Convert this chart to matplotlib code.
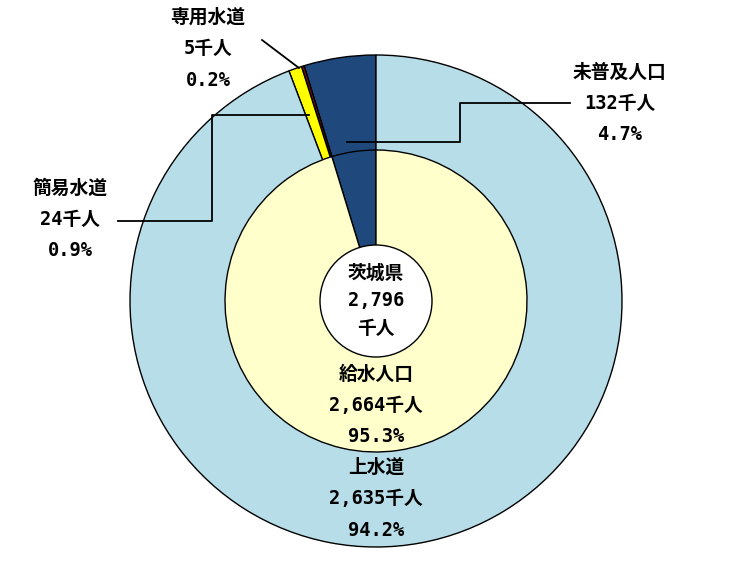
import matplotlib
matplotlib.use("Agg")
import matplotlib.pyplot as plt
from matplotlib.patches import Circle

# monospaced digits like the original, CJK glyphs fall through to Noto
plt.rcParams['font.family'] = ['DejaVu Sans Mono', 'Noto Sans CJK JP']

# outer ring: water supply by type (thousand people), drawn counterclockwise from 12 o'clock
outer_names = ['未普及人口', '専用水道', '簡易水道', '上水道']
outer_values = [132, 5, 24, 2635]
outer_pct = [4.7, 0.2, 0.9, 94.2]
outer_colors = ['#1F497D', '#7B1010', '#FFFF00', '#B7DEE8']

# inner disc: served vs not served
inner_names = ['未普及人口', '給水人口']
inner_values = [132, 2664]
inner_pct = [4.7, 95.3]
inner_colors = ['#1F497D', '#FFFFCC']

total_label = '茨城県\n2,796\n千人'

W, H = 738, 580
fig = plt.figure(figsize=(W / 100, H / 100), dpi=100)
ax = fig.add_axes([0, 0, 1, 1])

def P(x, y):
    # pixel (top-left origin) -> data coords
    return x, H - y

cx, cy = P(376, 301)
ax.pie(outer_values, colors=outer_colors, startangle=90, counterclock=True,
       center=(cx, cy), radius=246,
       wedgeprops=dict(edgecolor='black', linewidth=1.0))
ax.pie(inner_values, colors=inner_colors, startangle=90, counterclock=True,
       center=(cx, cy), radius=151,
       wedgeprops=dict(edgecolor='black', linewidth=1.0))
ax.add_patch(Circle((cx, cy), 56, facecolor='white', edgecolor='black', lw=1.0, zorder=5))

ax.set_xlim(0, W)
ax.set_ylim(0, H)
ax.set_aspect('equal')
ax.axis('off')

fs = 13.5
def label(x, y, lines, gap=31.5):
    for i, s in enumerate(lines):
        ax.text(*P(x, y + i * gap), s, ha='center', va='center', fontsize=fs,
                fontweight='bold', zorder=6)

def fmt(name, val, pct):
    return [name, f'{val:,}千人', f'{pct}%']

label(376, 273, total_label.split('\n'), gap=27.5)

label(208, 17, fmt(outer_names[1], outer_values[1], outer_pct[1]))
label(70, 188, fmt(outer_names[2], outer_values[2], outer_pct[2]))
label(620, 72, fmt(outer_names[0], outer_values[0], outer_pct[0]))
label(376, 374, fmt(inner_names[1], inner_values[1], inner_pct[1]))
label(376, 467, fmt(outer_names[3], outer_values[3], outer_pct[3]))

# leader lines
def leader(pts):
    xs, ys = zip(*[P(x, y) for x, y in pts])
    ax.plot(xs, ys, color='black', lw=1.3, zorder=7)

leader([(262, 40), (299, 68)])
leader([(118, 221), (212, 221), (212, 115), (309, 115)])
leader([(570, 103), (460, 103), (460, 142), (347, 142)])

fig.savefig('out.png', dpi=100)
